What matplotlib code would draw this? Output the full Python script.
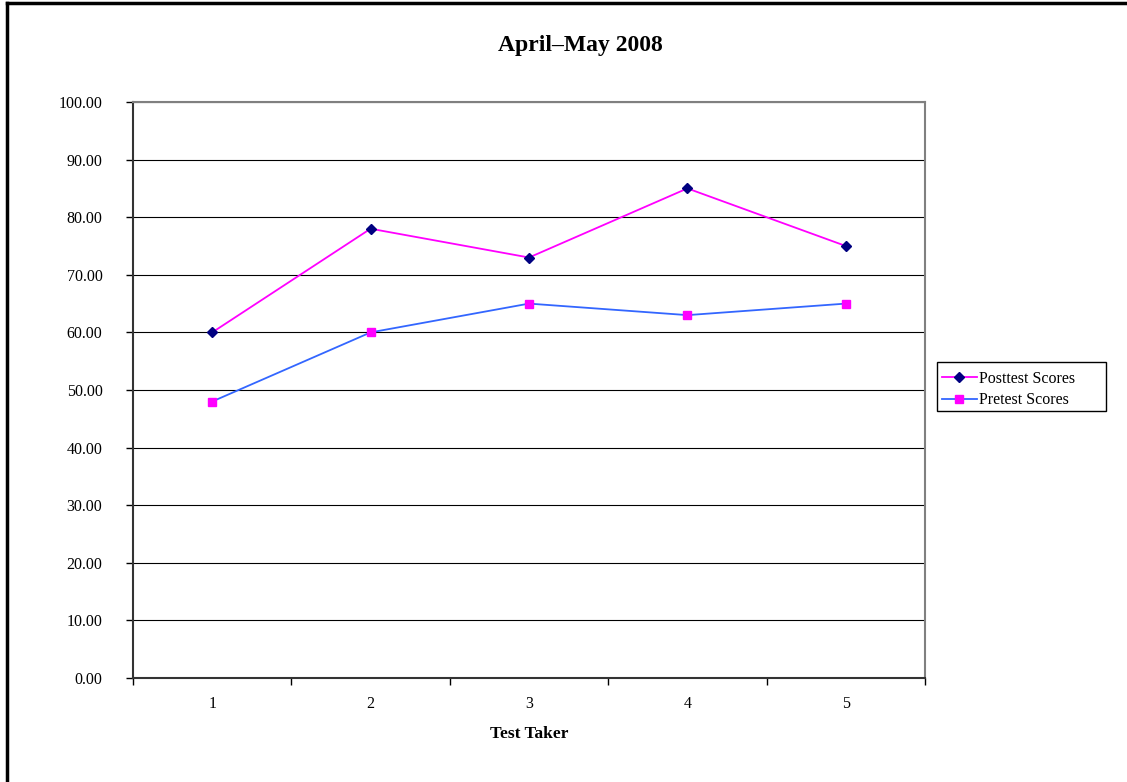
import numpy as np
import matplotlib.pyplot as plt
from matplotlib.lines import Line2D
from matplotlib.patches import Rectangle

# data
takers = [1, 2, 3, 4, 5]
posttest = [60, 78, 73, 85, 75]
pretest = [48, 60, 65, 63, 65]
y_ticks = np.arange(0, 101, 10)

plt.rcParams['font.family'] = ['Liberation Serif', 'DejaVu Serif']

W, H = 1127, 782
fig = plt.figure(figsize=(W / 100, H / 100), dpi=100)
ax = fig.add_axes([133 / W, 1 - 678 / H, (925 - 133) / W, (678 - 102) / H])

ax.plot(takers, posttest, color='#FF00FF', lw=1.3, marker='D', ms=5.5,
        mfc='#000080', mec='#000080', label='Posttest Scores', zorder=3)
ax.plot(takers, pretest, color='#3366FF', lw=1.3, marker='s', ms=6,
        mfc='#FF00FF', mec='#FF00FF', label='Pretest Scores', zorder=3)

ax.set_xlim(0.5, 5.5)
ax.set_ylim(0, 100)
ax.set_yticks(y_ticks)
ax.set_yticklabels([f'{v:.2f}' for v in y_ticks], fontsize=11.5)
ax.set_xticks(takers)
ax.set_xticklabels([str(t) for t in takers], fontsize=11.5)
ax.set_xticks(np.arange(0.5, 6.0, 1.0), minor=True)
ax.tick_params(axis='x', which='major', length=0, pad=13)
ax.tick_params(axis='x', which='minor', length=5, width=1, direction='out')
ax.tick_params(axis='y', length=5, width=1, direction='out', pad=17)

ax.grid(axis='y', color='black', lw=0.8)
ax.set_axisbelow(True)
for s in ['left', 'bottom']:
    ax.spines[s].set_color('#333333')
    ax.spines[s].set_linewidth(1.5)
for s in ['top', 'right']:
    ax.spines[s].set_color('#808080')
    ax.spines[s].set_linewidth(1.5)

ax.set_xlabel('Test Taker', fontsize=12.5, fontweight='bold', labelpad=10)
fig.text(580 / W, 1 - 46 / H, 'April\u2013May 2008', ha='center', va='center',
         fontsize=17, fontweight='bold')

# legend without its own frame, box drawn separately for the wider Excel look
leg = fig.legend(loc='upper left', bbox_to_anchor=(937 / W, 1 - 366 / H),
                 fontsize=11.5, frameon=False, handlelength=2.2,
                 borderpad=0.3, labelspacing=0.35, handletextpad=0.1,
                 borderaxespad=0)
fig.add_artist(Rectangle((937 / W, 1 - 411 / H), (1106 - 937) / W, (411 - 362) / H,
                         transform=fig.transFigure, fill=False, ec='black', lw=1))

# outer chart border (left and top only visible)
fig.add_artist(Line2D([7 / W, 7 / W], [0, 1 - 3 / H], color='black', lw=2.5,
                      transform=fig.transFigure))
fig.add_artist(Line2D([7 / W, 1], [1 - 3 / H, 1 - 3 / H], color='black', lw=2.5,
                      transform=fig.transFigure))

fig.savefig('out.png', dpi=100)
